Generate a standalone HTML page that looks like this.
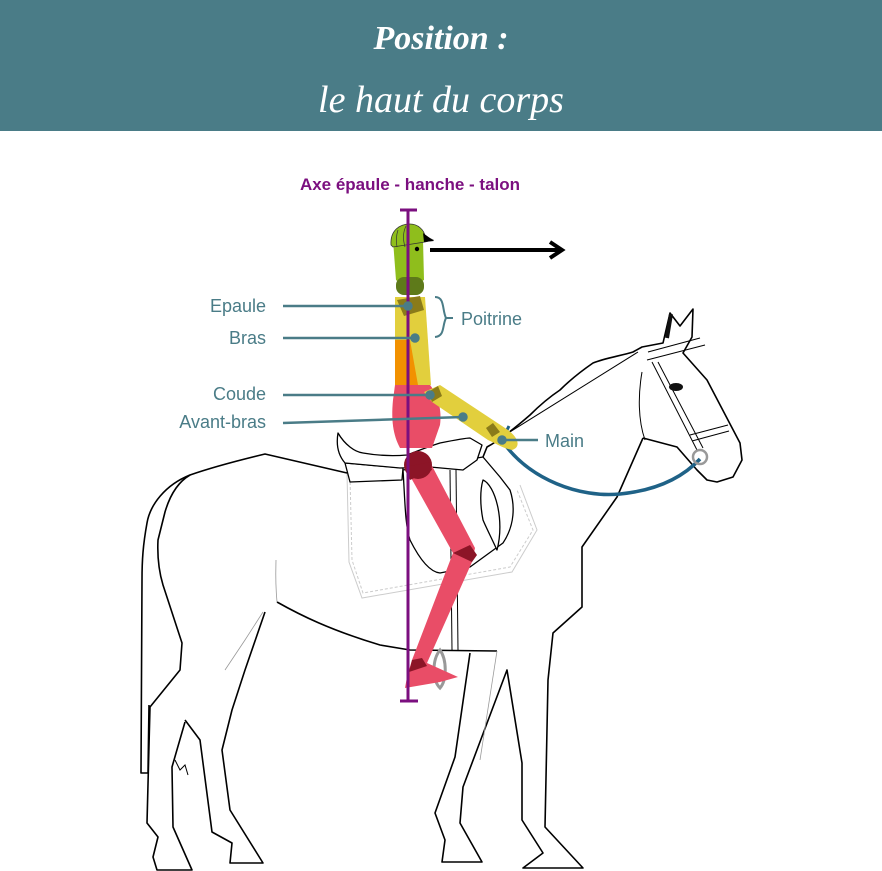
<!DOCTYPE html>
<html><head><meta charset="utf-8"><style>
body{margin:0;width:882px;height:871px;background:#fff;overflow:hidden;font-family:"Liberation Sans",sans-serif}
.hdr{position:absolute;left:0;top:0;width:882px;height:131px;background:#4a7c87}
.t1,.t2{position:absolute;width:882px;text-align:center;color:#fff;font-family:"Liberation Serif",serif;font-style:italic}
.t1{top:20px;font-size:34px;font-weight:bold}
.t2{top:78px;font-size:38px}
svg{position:absolute;left:0;top:0}
</style></head><body>
<div class="hdr"></div>
<div class="t1">Position :</div>
<div class="t2">le haut du corps</div>
<svg width="882" height="871" viewBox="0 0 882 871">
<!-- saddle pad -->
<g fill="none" stroke="#ccc" stroke-width="1">
<path d="M350 477 L352 560 L363 593 L510 567 L533 530 L517 490" stroke-dasharray="3,2"/>
<path d="M347 473 L349 562 L362 598 L512 572 L537 530 L520 485"/>
</g>
<g fill="none" stroke="#000" stroke-width="1.6" stroke-linejoin="round">
<!-- back + tail -->
<path d="M347 473 L265 454 C240 460 210 468 190 475 C165 485 150 505 147 523 C143 545 142 560 142 580 L141 773 L148 773 L149 705"/>
<!-- hind legs -->
<path d="M190 475 C178 482 170 495 165 512 L158 540 C157 560 160 575 163 585 L182 643 L180 670 L150 707 L147 823 L158 837 L153 857 L157 870 L192 870 L173 827 L172 767 L185 722"/>
<path d="M265 612 L245 670 L232 710 L222 750 L230 810 L263 863 L230 863 L232 843 L212 832 L200 740 L185 720"/>
<!-- belly -->
<path d="M277 602 C300 615 330 630 380 645 L410 650 L497 651"/>
<!-- front legs -->
<path d="M470 653 L455 757 L435 813 L445 840 L442 862 L482 862 L460 823 L463 787 L507 670 L522 763 L522 820 L543 853 L523 868 L583 868 L545 827 L548 680 L553 633 L582 607 L582 547 L617 497 L643 438"/>
<!-- head & neck -->
<path d="M643 438 L677 447 L697 470 L707 480 L717 482 L733 477 L742 460 L740 443 L707 380 L683 353 L692 337 L693 309 L680 326 L670 313 L663 343 L642 347 L633 352 C620 356 605 358 593 363 C580 372 570 380 560 390 C545 400 535 410 530 415 C515 428 500 440 487 447 L483 457"/>
</g>
<g fill="none" stroke="#000" stroke-width="1">
<path d="M175 760 L180 770 L185 765 L188 775"/>
<path d="M645 440 C638 420 638 395 642 372"/>
<path d="M648 352 L700 338"/><path d="M647 360 L705 345"/>
<path d="M652 362 L697 450"/><path d="M658 362 L703 448"/>
<path d="M690 435 L728 425"/><path d="M692 441 L729 431"/>
<path d="M497 440 L638 352"/>
</g>
<g fill="none" stroke="#999" stroke-width="0.8">
<path d="M277 602 C275 580 276 565 276 560"/>
<path d="M263 612 L245 640 L225 670"/>
<path d="M497 651 L480 760"/>
</g>
<ellipse cx="676" cy="387" rx="7" ry="4" fill="#111"/>
<path d="M671 314 L667 338" stroke="#111" stroke-width="4"/>
<!-- saddle -->
<g fill="#fff" stroke="#000" stroke-width="1.3" stroke-linejoin="round">
<path d="M403 470 C405 500 405 525 410 540 C420 560 430 572 440 573 L470 567 L503 543 C515 525 515 505 510 490 L500 477 L483 457Z"/>
<path d="M483 480 C495 485 505 520 497 550 C490 535 485 525 483 520 C480 505 480 490 483 480Z"/>
<path d="M345 463 L350 482 L402 480 L403 468Z"/>
<path d="M338 433 C345 445 355 452 363 453 C380 456 395 456 407 455 C420 450 430 446 440 443 C455 440 465 438 470 438 L482 445 L477 460 L463 470 L430 467 L400 468 L345 463 C338 455 336 445 338 433Z"/>
</g>
<g stroke="#000" stroke-width="1"><line x1="450" y1="470" x2="452" y2="650"/><line x1="456" y1="470" x2="458" y2="650"/></g>
<!-- reins -->
<path d="M503 442 C530 480 580 498 620 494 C660 490 685 475 700 459" fill="none" stroke="#1f6287" stroke-width="3.5"/>
<path d="M509 426 L504 436" stroke="#1f6287" stroke-width="3"/>
<circle cx="700" cy="457" r="7" fill="none" stroke="#999" stroke-width="2.5"/>
<!-- stirrup -->
<path d="M440 650 C432 660 432 680 440 688 C447 680 447 660 440 650Z" fill="none" stroke="#999" stroke-width="3"/>
<!-- rider -->
<path d="M393 240 L423 240 L424 280 C418 284 400 284 396 280 Z" fill="#8fbe1c"/>
<path d="M391 245 C390 230 400 224 410 224 C418 224 424 230 425 236 L433 240 L425 242 L393 247Z" fill="#8fbe1c" stroke="#333" stroke-width="0.8"/>
<path d="M406 226 C403 232 403 240 405 247 M398 230 C396 236 396 242 397 247" fill="none" stroke="#333" stroke-width="0.7"/>
<path d="M423 233 L434 241 L424 242Z" fill="#000"/>
<circle cx="417" cy="249" r="2.2" fill="#000"/>
<rect x="396" y="277" width="28" height="18" rx="8" fill="#5e7a1a"/>
<path d="M395 297 L425 297 L431 385 L410 392 L395 380Z" fill="#e2cf3d"/>
<path d="M395 340 L410 340 L418 385 L395 385Z" fill="#f29100"/>
<path d="M397 300 L420 296 L424 310 L404 316Z" fill="#8a7b1a"/>
<path d="M395 385 L430 385 C438 395 442 410 440 425 L432 448 L400 448 C393 435 391 420 393 400Z" fill="#e94d67"/>
<path d="M424 392 L440 385 L505 428 C518 436 522 447 512 450 C502 448 495 443 488 440 L432 402Z" fill="#e2cf3d"/>
<path d="M428 392 L438 386 L442 396 L432 402Z" fill="#8a7b1a"/>
<path d="M486 428 L493 423 L500 432 L492 437Z" fill="#8a7b1a"/>
<!-- leg -->
<path d="M405 467 L430 462 L475 548 L472 562 L427 663 L458 677 L440 682 L405 688 L407 677 L412 660 L453 553Z" fill="#e94d67"/>
<circle cx="418" cy="465" r="14" fill="#8c1527"/>
<path d="M405 467 L430 462 L432 470 L410 480Z" fill="#8c1527"/>
<path d="M453 553 L470 545 L477 555 L472 562Z" fill="#8c1527"/>
<path d="M412 660 L422 658 L427 666 L409 672Z" fill="#8c1527"/>
<path d="M405 467 L430 462 L452 553 L475 548" fill="none"/>
<!-- axis -->
<g stroke="#7b0f7f" stroke-width="3"><line x1="408" y1="210" x2="408" y2="700"/><line x1="400" y1="210" x2="417" y2="210"/><line x1="400" y1="701" x2="418" y2="701"/></g>
<!-- arrow -->
<path d="M430 250 L560 250" stroke="#000" stroke-width="4"/>
<path d="M550 242 L562 250 L550 258" fill="none" stroke="#000" stroke-width="4"/>
<!-- leaders -->
<g stroke="#4a7c87" stroke-width="2.5" fill="#4a7c87">
<line x1="283" y1="306" x2="408" y2="306"/><circle cx="408" cy="306" r="3.5"/>
<line x1="283" y1="338" x2="415" y2="338"/><circle cx="415" cy="338" r="3.5"/>
<line x1="283" y1="395" x2="430" y2="395"/><circle cx="430" cy="395" r="3.5"/>
<line x1="283" y1="423" x2="463" y2="417"/><circle cx="463" cy="417" r="3.5"/>
<line x1="502" y1="440" x2="538" y2="440"/><circle cx="502" cy="440" r="3.5"/>
<path d="M435 297 C445 297 442 310 446 318 L453 318 M446 318 C442 326 445 336 435 337" fill="none" stroke-width="2"/>
</g>
<g font-family="Liberation Sans,sans-serif" fill="#4a7c87" font-size="18">
<text x="266" y="312" text-anchor="end">Epaule</text>
<text x="266" y="344" text-anchor="end">Bras</text>
<text x="266" y="400" text-anchor="end">Coude</text>
<text x="266" y="428" text-anchor="end">Avant-bras</text>
<text x="461" y="325">Poitrine</text>
<text x="545" y="447">Main</text>
</g>
<text x="410" y="190" text-anchor="middle" font-family="Liberation Sans,sans-serif" font-weight="bold" font-size="17" fill="#7b0f7f">Axe épaule - hanche - talon</text>
</svg>
</body></html>
